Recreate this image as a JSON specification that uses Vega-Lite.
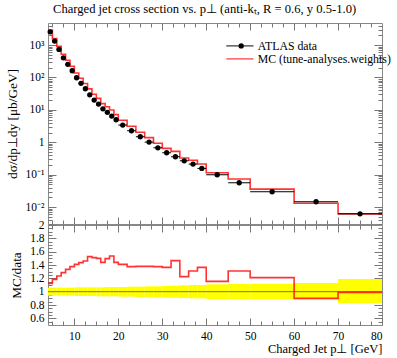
{
  "$schema": "https://vega.github.io/schema/vega-lite/v6.json",
  "padding": {"left": 4, "top": 3, "right": 5, "bottom": 2},
  "title": {"text": "Charged jet cross section vs. p⊥ (anti-kₜ, R = 0.6, y 0.5-1.0)", "anchor": "start", "frame": "group", "font": "Liberation Serif", "fontSize": 12.6, "fontWeight": "normal", "offset": 6, "dx": 5},
  "datasets": {
    "bins": [
      {"lo":4,"hi":5,"x":4.5,"data":2570,"mc":2890,"ratio":1.125,"elo":0.94,"ehi":1.06},
      {"lo":5,"hi":6,"x":5.5,"data":1330,"mc":1576,"ratio":1.185,"elo":0.94,"ehi":1.06},
      {"lo":6,"hi":7,"x":6.5,"data":736,"mc":909,"ratio":1.235,"elo":0.94,"ehi":1.06},
      {"lo":7,"hi":8,"x":7.5,"data":405,"mc":520,"ratio":1.285,"elo":0.94,"ehi":1.06},
      {"lo":8,"hi":9,"x":8.5,"data":254,"mc":339,"ratio":1.335,"elo":0.94,"ehi":1.06},
      {"lo":9,"hi":10,"x":9.5,"data":161,"mc":221,"ratio":1.375,"elo":0.94,"ehi":1.06},
      {"lo":10,"hi":11,"x":10.5,"data":98,"mc":138,"ratio":1.41,"elo":0.935,"ehi":1.065},
      {"lo":11,"hi":12,"x":11.5,"data":65.8,"mc":94.4,"ratio":1.435,"elo":0.935,"ehi":1.065},
      {"lo":12,"hi":13,"x":12.5,"data":44.8,"mc":65.4,"ratio":1.46,"elo":0.935,"ehi":1.065},
      {"lo":13,"hi":14,"x":13.5,"data":29.2,"mc":44.5,"ratio":1.525,"elo":0.935,"ehi":1.065},
      {"lo":14,"hi":15,"x":14.5,"data":20.1,"mc":30.4,"ratio":1.51,"elo":0.935,"ehi":1.065},
      {"lo":15,"hi":16,"x":15.5,"data":15.1,"mc":22.7,"ratio":1.5,"elo":0.93,"ehi":1.065},
      {"lo":16,"hi":17,"x":16.5,"data":10.8,"mc":15.6,"ratio":1.44,"elo":0.93,"ehi":1.065},
      {"lo":17,"hi":18,"x":17.5,"data":8.37,"mc":12.5,"ratio":1.495,"elo":0.93,"ehi":1.07},
      {"lo":18,"hi":19,"x":18.5,"data":6.44,"mc":9.89,"ratio":1.535,"elo":0.93,"ehi":1.07},
      {"lo":19,"hi":20,"x":19.5,"data":4.95,"mc":7.13,"ratio":1.44,"elo":0.93,"ehi":1.07},
      {"lo":20,"hi":22,"x":21,"data":3.4,"mc":4.79,"ratio":1.41,"elo":0.925,"ehi":1.07},
      {"lo":22,"hi":24,"x":23,"data":2.27,"mc":3.12,"ratio":1.375,"elo":0.925,"ehi":1.075},
      {"lo":24,"hi":26,"x":25,"data":1.48,"mc":2.04,"ratio":1.38,"elo":0.92,"ehi":1.075},
      {"lo":26,"hi":28,"x":27,"data":1.01,"mc":1.39,"ratio":1.38,"elo":0.92,"ehi":1.08},
      {"lo":28,"hi":30,"x":29,"data":0.676,"mc":0.93,"ratio":1.375,"elo":0.915,"ehi":1.08},
      {"lo":30,"hi":32,"x":31,"data":0.474,"mc":0.647,"ratio":1.365,"elo":0.91,"ehi":1.085},
      {"lo":32,"hi":34,"x":33,"data":0.357,"mc":0.523,"ratio":1.465,"elo":0.91,"ehi":1.09},
      {"lo":34,"hi":36,"x":35,"data":0.268,"mc":0.328,"ratio":1.225,"elo":0.905,"ehi":1.095},
      {"lo":36,"hi":38,"x":37,"data":0.212,"mc":0.278,"ratio":1.31,"elo":0.9,"ehi":1.1},
      {"lo":38,"hi":40,"x":39,"data":0.156,"mc":0.213,"ratio":1.365,"elo":0.9,"ehi":1.1},
      {"lo":40,"hi":45,"x":42.5,"data":0.0993,"mc":0.1147,"ratio":1.155,"elo":0.89,"ehi":1.11},
      {"lo":45,"hi":50,"x":47.5,"data":0.0562,"mc":0.0736,"ratio":1.31,"elo":0.89,"ehi":1.115},
      {"lo":50,"hi":60,"x":55,"data":0.0297,"mc":0.0359,"ratio":1.21,"elo":0.885,"ehi":1.12},
      {"lo":60,"hi":70,"x":65,"data":0.0146,"mc":0.0131,"ratio":0.9,"elo":0.885,"ehi":1.13},
      {"lo":70,"hi":80,"x":75,"data":0.0062,"mc":0.00614,"ratio":0.99,"elo":0.825,"ehi":1.19}
    ],
    "step": [
      {"lo":4,"mc":2890,"ratio":1.125},{"lo":5,"mc":1576,"ratio":1.185},{"lo":6,"mc":909,"ratio":1.235},
      {"lo":7,"mc":520,"ratio":1.285},{"lo":8,"mc":339,"ratio":1.335},{"lo":9,"mc":221,"ratio":1.375},
      {"lo":10,"mc":138,"ratio":1.41},{"lo":11,"mc":94.4,"ratio":1.435},{"lo":12,"mc":65.4,"ratio":1.46},
      {"lo":13,"mc":44.5,"ratio":1.525},{"lo":14,"mc":30.4,"ratio":1.51},{"lo":15,"mc":22.7,"ratio":1.5},
      {"lo":16,"mc":15.6,"ratio":1.44},{"lo":17,"mc":12.5,"ratio":1.495},{"lo":18,"mc":9.89,"ratio":1.535},
      {"lo":19,"mc":7.13,"ratio":1.44},{"lo":20,"mc":4.79,"ratio":1.41},{"lo":22,"mc":3.12,"ratio":1.375},
      {"lo":24,"mc":2.04,"ratio":1.38},{"lo":26,"mc":1.39,"ratio":1.38},{"lo":28,"mc":0.93,"ratio":1.375},
      {"lo":30,"mc":0.647,"ratio":1.365},{"lo":32,"mc":0.523,"ratio":1.465},{"lo":34,"mc":0.328,"ratio":1.225},
      {"lo":36,"mc":0.278,"ratio":1.31},{"lo":38,"mc":0.213,"ratio":1.365},{"lo":40,"mc":0.1147,"ratio":1.155},
      {"lo":45,"mc":0.0736,"ratio":1.31},{"lo":50,"mc":0.0359,"ratio":1.21},{"lo":60,"mc":0.0131,"ratio":0.9},
      {"lo":70,"mc":0.00614,"ratio":0.99},{"lo":80,"mc":0.00614,"ratio":0.99}
    ]
  },
  "spacing": -8,
  "vconcat": [
    {
      "width": 334,
      "height": 201,
      "resolve": {"axis": {"x": "independent", "y": "independent"}},
      "layer": [
        {
          "data": {"name": "step"},
          "mark": {"type": "line", "interpolate": "step-after", "strokeWidth": 1.6, "opacity": 0.8, "clip": true},
          "encoding": {
            "x": {"field": "lo", "type": "quantitative", "scale": {"domain": [4, 80], "nice": false, "zero": false},
              "axis": {"orient": "bottom", "labels": false, "title": null,
                "values": [5,7.5,10,12.5,15,17.5,20,22.5,25,27.5,30,32.5,35,37.5,40,42.5,45,47.5,50,52.5,55,57.5,60,62.5,65,67.5,70,72.5,75,77.5],
                "tickSize": {"condition": {"test": "datum.value % 10 === 0", "value": -7}, "value": -4}}},
            "y": {"field": "mc", "type": "quantitative", "scale": {"type": "log", "domain": [0.003, 4800], "nice": false},
              "axis": {"orient": "left", "title": "dσ/dp⊥dy [μb/GeV]", "titlePadding": 6, "titleFontSize": 13.3,
                "values": [0.003,0.004,0.005,0.006,0.007,0.008,0.009,0.01,0.02,0.03,0.04,0.05,0.06,0.07,0.08,0.09,0.1,0.2,0.3,0.4,0.5,0.6,0.7,0.8,0.9,1,2,3,4,5,6,7,8,9,10,20,30,40,50,60,70,80,90,100,200,300,400,500,600,700,800,900,1000,2000,3000,4000],
                "labelExpr": "datum.value == 1 ? '1' : datum.value == 10 ? '10¹' : datum.value == 100 ? '10²' : datum.value == 1000 ? '10³' : datum.value == 0.1 ? '10⁻¹' : datum.value == 0.01 ? '10⁻²' : ''",
                "tickSize": {"condition": {"test": "abs(log(datum.value)/LN10 - round(log(datum.value)/LN10)) < 0.001", "value": -8}, "value": -4}}},
            "color": {"datum": "MC (tune-analyses.weights)", "type": "nominal",
              "scale": {"domain": ["ATLAS data", "MC (tune-analyses.weights)"], "range": ["black", "red"]},
              "legend": {"orient": "none", "legendX": 186, "legendY": 17, "title": null, "symbolType": "M-3.4,0H3.4", "symbolSize": 64, "symbolStrokeWidth": 1.2,
                "labelFont": "Liberation Serif", "labelFontSize": 11.8, "labelColor": "black", "rowPadding": -4, "labelOffset": 12, "labelLimit": 400}}
          }
        },
        {
          "data": {"name": "bins"},
          "mark": {"type": "rule", "color": "black", "strokeWidth": 1},
          "encoding": {
            "x": {"field": "lo", "type": "quantitative",
              "axis": {"orient": "top", "labels": false, "title": null,
                "values": [5,7.5,10,12.5,15,17.5,20,22.5,25,27.5,30,32.5,35,37.5,40,42.5,45,47.5,50,52.5,55,57.5,60,62.5,65,67.5,70,72.5,75,77.5],
                "tickSize": {"condition": {"test": "datum.value % 10 === 0", "value": -7}, "value": -4}}},
            "x2": {"field": "hi"},
            "y": {"field": "data", "type": "quantitative",
              "axis": {"orient": "right", "labels": false, "title": null,
                "values": [0.003,0.004,0.005,0.006,0.007,0.008,0.009,0.01,0.02,0.03,0.04,0.05,0.06,0.07,0.08,0.09,0.1,0.2,0.3,0.4,0.5,0.6,0.7,0.8,0.9,1,2,3,4,5,6,7,8,9,10,20,30,40,50,60,70,80,90,100,200,300,400,500,600,700,800,900,1000,2000,3000,4000],
                "tickSize": {"condition": {"test": "abs(log(datum.value)/LN10 - round(log(datum.value)/LN10)) < 0.001", "value": -8}, "value": -4}}}
          }
        },
        {
          "data": {"name": "bins"},
          "mark": {"type": "point", "filled": true, "size": 28, "opacity": 1},
          "encoding": {
            "x": {"field": "x", "type": "quantitative", "axis": null},
            "y": {"field": "data", "type": "quantitative", "axis": null},
            "color": {"datum": "ATLAS data", "type": "nominal", "legend": null},
            "shape": {"datum": "ATLAS data", "type": "nominal", "scale": {"domain": ["ATLAS data"], "range": ["circle"]},
              "legend": {"orient": "none", "legendX": 187.3, "legendY": 17, "title": null, "symbolSize": 28, "symbolFillColor": "black", "symbolStrokeColor": "black", "symbolStrokeWidth": 0,
                "labelFont": "Liberation Serif", "labelFontSize": 11.8, "labelOpacity": 0, "labelOffset": 12, "labelLimit": 400}}
          }
        }
      ]
    },
    {
      "width": 334,
      "height": 100,
      "resolve": {"axis": {"x": "independent", "y": "independent"}},
      "layer": [
        {
          "data": {"name": "bins"},
          "mark": {"type": "rect", "color": "#ffff00"},
          "encoding": {
            "x": {"field": "lo", "type": "quantitative", "scale": {"domain": [4, 80], "nice": false, "zero": false},
              "axis": {"orient": "bottom", "title": "Charged Jet p⊥ [GeV]", "titleAnchor": "end", "titlePadding": 1,
                "values": [5,7.5,10,12.5,15,17.5,20,22.5,25,27.5,30,32.5,35,37.5,40,42.5,45,47.5,50,52.5,55,57.5,60,62.5,65,67.5,70,72.5,75,77.5,80],
                "labelExpr": "datum.value % 10 === 0 ? datum.value : ''",
                "tickSize": {"condition": {"test": "datum.value % 10 === 0", "value": -7}, "value": -4}}},
            "x2": {"field": "hi"},
            "y": {"field": "elo", "type": "quantitative", "scale": {"domain": [0.5, 2.0], "nice": false, "zero": false},
              "axis": {"orient": "left", "title": "MC/data", "titlePadding": 6, "titleFontSize": 13.3,
                "values": [0.55,0.6,0.65,0.7,0.75,0.8,0.85,0.9,0.95,1,1.05,1.1,1.15,1.2,1.25,1.3,1.35,1.4,1.45,1.5,1.55,1.6,1.65,1.7,1.75,1.8,1.85,1.9,1.95,2],
                "labelExpr": "abs(datum.value*5 - round(datum.value*5)) > 0.01 || datum.value < 0.59 ? '' : format(datum.value, '~g')",
                "tickSize": {"condition": {"test": "abs(datum.value*5 - round(datum.value*5)) < 0.01", "value": -8}, "value": -4}}},
            "y2": {"field": "ehi"}
          }
        },
        {
          "data": {"name": "bins"},
          "mark": {"type": "rule", "color": "#555", "strokeWidth": 0.8},
          "encoding": {
            "x": {"field": "lo", "type": "quantitative",
              "axis": {"orient": "top", "labels": false, "title": null,
                "values": [5,7.5,10,12.5,15,17.5,20,22.5,25,27.5,30,32.5,35,37.5,40,42.5,45,47.5,50,52.5,55,57.5,60,62.5,65,67.5,70,72.5,75,77.5],
                "tickSize": {"condition": {"test": "datum.value % 10 === 0", "value": -7}, "value": -4}}},
            "x2": {"field": "hi"},
            "y": {"datum": 1, "type": "quantitative",
              "axis": {"orient": "right", "labels": false, "title": null,
                "values": [0.55,0.6,0.65,0.7,0.75,0.8,0.85,0.9,0.95,1,1.05,1.1,1.15,1.2,1.25,1.3,1.35,1.4,1.45,1.5,1.55,1.6,1.65,1.7,1.75,1.8,1.85,1.9,1.95],
                "tickSize": {"condition": {"test": "abs(datum.value*5 - round(datum.value*5)) < 0.01", "value": -8}, "value": -4}}}
          }
        },
        {
          "data": {"name": "step"},
          "mark": {"type": "line", "interpolate": "step-after", "color": "red", "strokeWidth": 1.6, "opacity": 0.8, "clip": true},
          "encoding": {
            "x": {"field": "lo", "type": "quantitative", "axis": null},
            "y": {"field": "ratio", "type": "quantitative", "axis": null}
          }
        }
      ]
    }
  ],
  "config": {
    "view": {"stroke": "#888", "strokeWidth": 1},
    "axis": {"domain": false, "grid": false, "tickColor": "#777", "tickWidth": 1, "labelFont": "Liberation Serif", "labelFontSize": 11.5, "labelColor": "black", "labelPadding": 12, "titleFont": "Liberation Serif", "titleFontSize": 12.5, "titleFontWeight": "normal", "titleColor": "black"}
  }
}
